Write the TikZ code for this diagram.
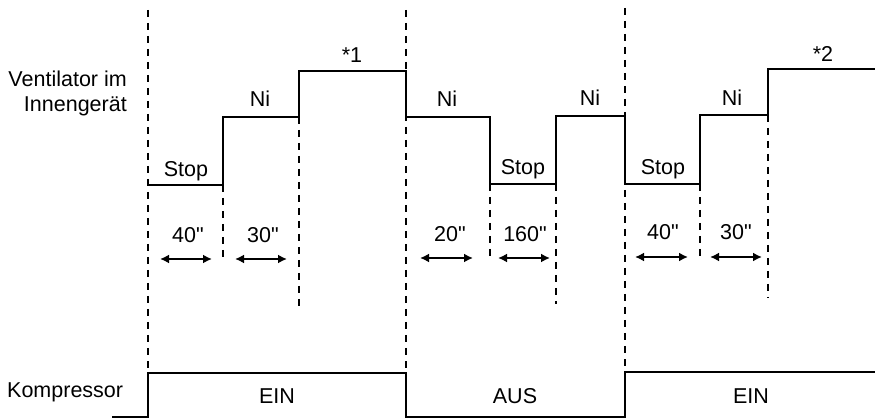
\documentclass[tikz,border=0pt]{standalone}
\usepackage{fontspec}
\setmainfont[Ligatures=TeXOff]{Liberation Sans}
\usetikzlibrary{arrows.meta}
\begin{document}
\begin{tikzpicture}[x=1pt,y=-1pt,font=\fontsize{21.5}{25}\selectfont,
  sig/.style={line width=2.6pt},
  guide/.style={dash pattern=on 7pt off 6pt,line width=1.9pt},
  span/.style={{Latex[length=9pt,width=9pt]}-{Latex[length=9pt,width=9pt]},line width=2.4pt},
  lbl/.style={anchor=base,inner sep=0pt}]
\useasboundingbox(0,0)rectangle(875,419);
% main guides
\draw[guide](148,10)--(148,373);
\draw[guide](406,10)--(406,373);
\draw[guide](625,8)--(625,372);
% short guides
\draw[guide](223,185)--(223,257);
\draw[guide](299,117)--(299,306);
\draw[guide](490,184)--(490,257);
\draw[guide](556,184)--(556,304);
\draw[guide](700,184)--(700,257);
\draw[guide](768,115)--(768,298);
% fan
\draw[sig](148,185)--(223,185)--(223,117)--(299,117)--(299,71)--(406,71)--(406,117)--(490,117)--(490,184)--(556,184)--(556,116)--(625,116)--(625,184)--(700,184)--(700,115)--(768,115)--(768,69)--(875,69);
% compressor
\draw[sig](112,417)--(148,417)--(148,373)--(406,373)--(406,417)--(625,417)--(625,372)--(875,372);
% times
\draw[span](160,259)--(212,259);
\draw[span](235,259)--(287,259);
\draw[span](420,258)--(473,258);
\draw[span](498,258)--(550,258);
\draw[span](635,257)--(688,257);
\draw[span](710,257)--(762,257);
\node[lbl](t1)at(188,243){40"};
\node[lbl](t2)at(263,243){30"};
\node[lbl](t3)at(450,242){20"};
\node[lbl](t4)at(525,242){160"};
\node[lbl](t5)at(663,240){40"};
\node[lbl](t6)at(736,240){30"};
% levels
\node[lbl](s1)at(186,177){Stop};
\node[lbl](n1)at(260,107){Ni};
\node[lbl](m1)at(352,63){*1};
\node[lbl](n2)at(447,107){Ni};
\node[lbl](s2)at(523,175){Stop};
\node[lbl](n3)at(590,106){Ni};
\node[lbl](s3)at(663,175){Stop};
\node[lbl](n4)at(732,106){Ni};
\node[lbl](m2)at(823,62){*2};
\node[lbl](e1)at(277,403){EIN};
\node[lbl](a1)at(515,403){AUS};
\node[lbl](e2)at(751,403){EIN};
% rows
\node[anchor=base east,align=right,inner sep=0pt](fan)at(127,112){Ventilator im\\Innengerät};
\node[anchor=base west,inner sep=0pt](comp)at(7,397){Kompressor};
\end{tikzpicture}
\end{document}
